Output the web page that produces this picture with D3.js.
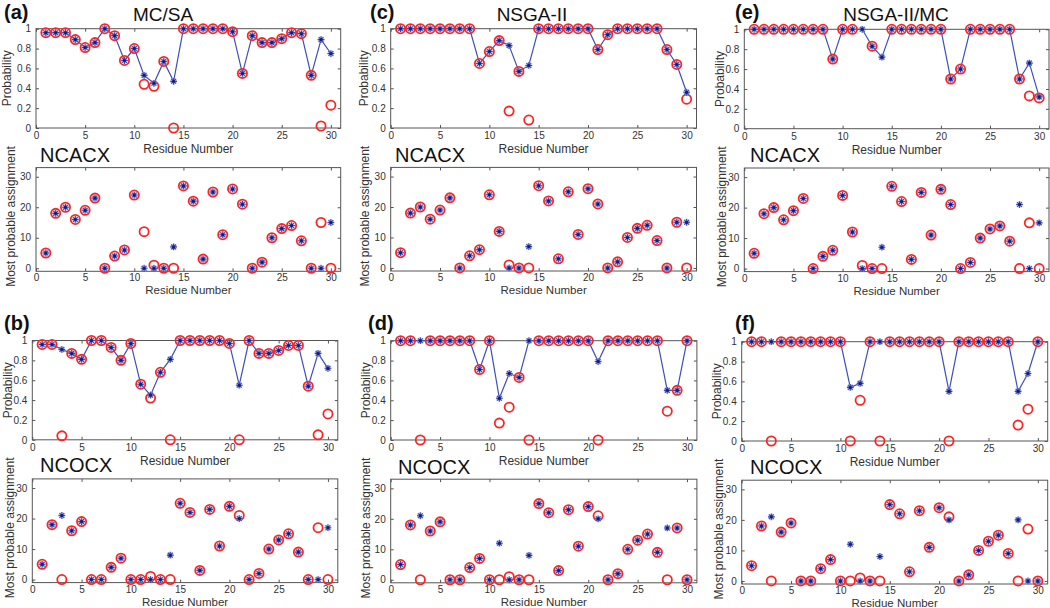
<!DOCTYPE html>
<html><head><meta charset="utf-8">
<script src="https://cdn.jsdelivr.net/npm/d3@7"></script>
<style>
body{margin:0;background:#fff}
svg{display:block}
text{font-family:"Liberation Sans",Arial,Helvetica,sans-serif}
</style>
</head><body>
<svg id="chart" width="1050" height="608"></svg>
<script>
// ---------------- data ----------------
const residues = [1,2,3,4,5,6,7,8,9,10,11,12,13,14,15,16,17,18,19,20,21,22,23,24,25,26,27,28,29,30];
const xTicks = [0,5,10,15,20,25,30];
const probTicks = [0,0.2,0.4,0.6,0.8,1];
const probTickLabels = ["0","0.2","0.4","0.6","0.8","1"];
const asgTicks = [0,10,20,30];
const panelLetters = ["(a)","(b)","(c)","(d)","(e)","(f)"];
const methodTitles = ["MC/SA","","NSGA-II","","NSGA-II/MC",""];
const experiments = ["NCACX","NCOCX","NCACX","NCOCX","NCACX","NCOCX"];

// (a) MC/SA, NCACX
const aProbBest = [0.96,0.96,0.96,0.89,0.81,0.86,1.00,0.93,0.68,0.80,0.53,0.45,0.67,0.47,1.00,1.00,1.00,1.00,1.00,0.97,0.55,0.93,0.86,0.86,0.90,0.96,0.95,0.53,0.89,0.75];
const aProbTrue = [0.96,0.96,0.96,0.89,0.81,0.86,1.00,0.93,0.68,0.80,0.44,0.42,0.67,0.00,1.00,1.00,1.00,1.00,1.00,0.97,0.55,0.93,0.86,0.86,0.90,0.96,0.95,0.53,0.02,0.23];
const aAsgBest  = [5,18,20,16,19,23,0,4,6,24,0,0,0,7,27,22,3,25,11,26,21,0,2,10,13,14,9,0,0,15];
const aAsgTrue  = [5,18,20,16,19,23,0,4,6,24,12,1,0,0,27,22,3,25,11,26,21,0,2,10,13,14,9,0,15,0];

// (b) MC/SA, NCOCX
const bProbBest = [0.96,0.96,0.91,0.87,0.81,1.00,1.00,0.93,0.80,0.97,0.56,0.45,0.68,0.81,1.00,1.00,1.00,1.00,1.00,0.97,0.55,1.00,0.87,0.87,0.90,0.95,0.95,0.54,0.87,0.72];
const bProbTrue = [0.96,0.96,0.04,0.87,0.81,1.00,1.00,0.93,0.80,0.97,0.56,0.42,0.68,0.00,1.00,1.00,1.00,1.00,1.00,0.97,0.00,1.00,0.87,0.87,0.90,0.95,0.95,0.54,0.05,0.26];
const bAsgBest  = [5,18,21,16,19,0,0,4,7,0,0,0,0,8,25,22,3,23,11,24,20,0,2,10,13,15,9,0,0,17];
const bAsgTrue  = [5,18,0,16,19,0,0,4,7,0,0,1,0,0,25,22,3,23,11,24,21,0,2,10,13,15,9,0,17,0];

// (c) NSGA-II, NCACX
const cProbBest = [1,1,1,1,1,1,1,1,0.65,0.77,0.88,0.83,0.57,0.63,1,1,1,1,1,1,0.79,0.94,1,1,1,1,1,0.79,0.64,0.36];
const cProbTrue = [1,1,1,1,1,1,1,1,0.65,0.77,0.88,0.17,0.57,0.08,1,1,1,1,1,1,0.79,0.94,1,1,1,1,1,0.79,0.64,0.29];
const cAsgBest  = [5,18,20,16,19,23,0,4,6,24,12,0,0,7,27,22,3,25,11,26,21,0,2,10,13,14,9,0,15,15];
const cAsgTrue  = [5,18,20,16,19,23,0,4,6,24,12,1,0,0,27,22,3,25,11,26,21,0,2,10,13,14,9,0,15,0];

// (d) NSGA-II, NCOCX
const dProbBest = [1,1,1,1,1,1,1,1,0.71,1,0.42,0.67,0.63,1,1,1,1,1,1,1,0.79,1,1,1,1,1,1,0.50,0.50,1];
const dProbTrue = [1,1,0,1,1,1,1,1,0.71,1,0.17,0.33,0.63,0,1,1,1,1,1,1,0,1,1,1,1,1,1,0.29,0.50,1];
const dAsgBest  = [5,18,21,16,19,0,0,4,7,0,12,0,0,8,25,22,3,23,11,24,20,0,2,10,13,15,9,17,17,0];
const dAsgTrue  = [5,18,0,16,19,0,0,4,7,0,0,1,0,0,25,22,3,23,11,24,21,0,2,10,13,15,9,0,17,0];

// (e) NSGA-II/MC, NCACX
const eProbBest = [1,1,1,1,1,1,1,1,0.70,1,1,1,0.83,0.72,1,1,1,1,1,1,0.50,0.60,1,1,1,1,1,0.50,0.66,0.32];
const eProbTrue = [1,1,1,1,1,1,1,1,0.70,1,1,null,0.83,null,1,1,1,1,1,1,0.50,0.60,1,1,1,1,1,0.50,0.33,0.31];
const eAsgBest  = [5,18,20,16,19,23,0,4,6,24,12,0,0,7,27,22,3,25,11,26,21,0,2,10,13,14,9,21,0,15];
const eAsgTrue  = [5,18,20,16,19,23,0,4,6,24,12,1,0,0,27,22,3,25,11,26,21,0,2,10,13,14,9,0,15,0];

// (f) NSGA-II/MC, NCOCX
const fProbBest = [1,1,1,1,1,1,1,1,1,1,0.54,0.58,1,1,1,1,1,1,1,1,0.50,1,1,1,1,1,1,0.50,0.68,1];
const fProbTrue = [1,1,0,1,1,1,1,1,1,1,0,0.41,1,0,1,1,1,1,1,1,0,1,1,1,1,1,1,0.16,0.32,1];
const fAsgBest  = [5,18,21,16,19,0,0,4,7,0,12,0,0,8,25,22,3,23,11,24,20,0,2,10,13,15,9,20,0,0];
const fAsgTrue  = [5,18,0,16,19,0,0,4,7,0,0,1,0,0,25,22,3,23,11,24,21,0,2,10,13,15,9,0,17,0];

// ---------------- layout ----------------
const series = [
  [aProbBest,aProbTrue,aAsgBest,aAsgTrue],
  [bProbBest,bProbTrue,bAsgBest,bAsgTrue],
  [cProbBest,cProbTrue,cAsgBest,cAsgTrue],
  [dProbBest,dProbTrue,dAsgBest,dAsgTrue],
  [eProbBest,eProbTrue,eAsgBest,eAsgTrue],
  [fProbBest,fProbTrue,fAsgBest,fAsgTrue]
];
const layouts = [
  {x0:36,   w:304.7, pTop:28.7,  pBot:128,   sTop:167.6, sBot:271.3, lx:4,   ly:18.5, tx:163, px:6,   ax:10,  ex:40,  ey:162},
  {x0:32.3, w:305.5, pTop:340.5, pBot:439.8, sTop:478.9, sBot:582.6, lx:4,   ly:330,  tx:0,   px:7,   ax:9,   ex:40,  ey:472},
  {x0:390.7,w:305.8, pTop:28.7,  pBot:128,   sTop:167.4, sBot:271.0, lx:370, ly:18.5, tx:532, px:363, ax:364, ex:395, ey:162},
  {x0:390.7,w:306.2, pTop:340.7, pBot:440,   sTop:479.2, sBot:582.8, lx:368, ly:330,  tx:0,   px:365, ax:365, ex:398, ey:474},
  {x0:744.3,w:304.7, pTop:29.3,  pBot:128.7, sTop:168.0, sBot:271.6, lx:735, ly:18.5, tx:896, px:719, ax:721, ex:750, ey:162},
  {x0:741.7,w:306.0, pTop:341.7, pBot:441,   sTop:480.2, sBot:584.0, lx:735, ly:330,  tx:0,   px:716, ax:718, ex:750, ey:474}
];

const svg = d3.select("#chart");
const AXIS = "#555";
const LABEL = "#333";
const FONT = '"Liberation Sans",Arial,Helvetica,sans-serif';

function frame(g, x, y, yVals, yLabels, pad){
  const [yb, yt] = y.range();
  const [xl, xr] = x.range();
  const ax = [
    g.append("g").attr("transform",`translate(0,${yb})`)
      .call(d3.axisBottom(x).tickValues(xTicks).tickSizeInner(-3).tickSizeOuter(0).tickPadding(pad)),
    g.append("g").attr("transform",`translate(0,${yt})`)
      .call(d3.axisTop(x).tickValues(xTicks).tickSizeInner(-3).tickSizeOuter(0).tickFormat("")),
    g.append("g").attr("transform",`translate(${xl},0)`)
      .call(d3.axisLeft(y).tickValues(yVals).tickSizeInner(-3).tickSizeOuter(0).tickPadding(5)
        .tickFormat((d,i)=>yLabels[i])),
    g.append("g").attr("transform",`translate(${xr},0)`)
      .call(d3.axisRight(y).tickValues(yVals).tickSizeInner(-3).tickSizeOuter(0).tickFormat(""))
  ];
  ax.forEach(a=>{
    a.select(".domain").remove();
    a.attr("font-family",FONT).attr("font-size",10);
    a.selectAll(".tick line").attr("stroke",AXIS);
    a.selectAll(".tick text").attr("fill",LABEL);
  });
  g.append("rect").attr("x",xl).attr("y",yt).attr("width",xr-xl).attr("height",yb-yt)
    .attr("fill","none").attr("stroke",AXIS).attr("stroke-width",1);
}

function starMarks(g, pts){
  const s = 3.4, a = 2.4;
  const star = `M${-s},0H${s}M0,${-s}V${s}M${-a},${-a}L${a},${a}M${-a},${a}L${a},${-a}`;
  const m = g.append("g").selectAll("g").data(pts).join("g")
    .attr("transform",d=>`translate(${d[0]},${d[1]})`);
  m.append("circle").attr("r",3.3).attr("fill","#9aa4dc").attr("opacity",0.55);
  m.append("path").attr("d",star).attr("stroke","#3a4cb4").attr("stroke-width",1.1).attr("fill","none");
  m.append("circle").attr("r",1.5).attr("fill","#161c72");
}
function ringMarks(g, pts){
  g.append("g").selectAll("circle").data(pts).join("circle")
    .attr("cx",d=>d[0]).attr("cy",d=>d[1]).attr("r",4.6)
    .attr("fill","none").attr("stroke","#ff2424").attr("stroke-width",1.8);
}

layouts.forEach((L, i)=>{
  const [pBest, pTrue, sBest, sTrue] = series[i];
  const g = svg.append("g");
  const x = d3.scaleLinear().domain([0,31]).range([L.x0, L.x0 + L.w]);
  const yP = d3.scaleLinear().domain([0,1]).range([L.pBot, L.pTop]);
  const yS = d3.scaleLinear().domain([-1,33]).range([L.sBot, L.sTop]);

  // panel letter & title
  g.append("text").attr("x",L.lx).attr("y",L.ly).attr("font-size",20).attr("font-weight","bold")
    .attr("fill","#111").text(panelLetters[i]);
  if (methodTitles[i]) {
    g.append("text").attr("x",L.tx).attr("y",21).attr("font-size",19).attr("text-anchor","middle")
      .attr("fill","#111").text(methodTitles[i]);
  }

  // probability subplot
  frame(g, x, yP, probTicks, probTickLabels, 4);
  const xm = (x.range()[0] + x.range()[1]) / 2;
  g.append("text").attr("x",xm).attr("y",L.pBot + 25).attr("text-anchor","middle")
    .attr("font-size",12).attr("fill",LABEL).text("Residue Number");
  g.append("text").attr("transform",`translate(${L.px + 5},${(L.pTop+L.pBot)/2}) rotate(-90)`)
    .attr("text-anchor","middle").attr("font-size",12).attr("fill",LABEL).text("Probability");

  const line = d3.line().x((d,j)=>x(residues[j])).y(d=>yP(d));
  g.append("path").attr("d",line(pBest)).attr("fill","none").attr("stroke","#3d4fb8").attr("stroke-width",1.2);
  ringMarks(g, pTrue.map((v,j)=>v==null?null:[x(residues[j]), yP(v)]).filter(d=>d));
  starMarks(g, pBest.map((v,j)=>[x(residues[j]), yP(v)]));

  // assignment subplot
  g.append("text").attr("x",L.ex).attr("y",L.ey).attr("font-size",20).attr("fill","#111").text(experiments[i]);
  frame(g, x, yS, asgTicks, asgTicks.map(String), 3);
  g.append("text").attr("x",xm).attr("y",L.sBot + 23).attr("text-anchor","middle")
    .attr("font-size",11.5).attr("fill",LABEL).text("Residue Number");
  g.append("text").attr("transform",`translate(${L.ax + 5},${(L.sTop+L.sBot)/2 - 3}) rotate(-90)`)
    .attr("text-anchor","middle").attr("font-size",12).attr("fill",LABEL).text("Most probable assignment");
  ringMarks(g, sTrue.map((v,j)=>[x(residues[j]), yS(v)]));
  starMarks(g, sBest.map((v,j)=>[x(residues[j]), yS(v)]));
});
</script>
</body></html>
